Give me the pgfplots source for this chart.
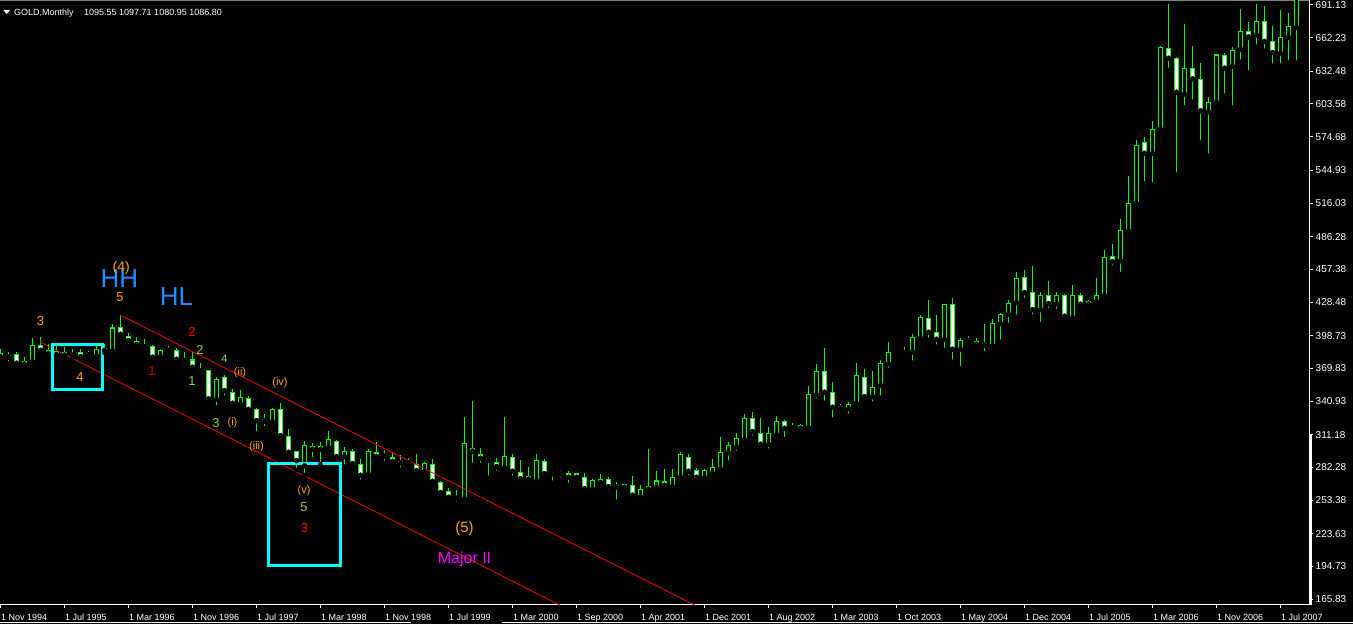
\documentclass[border=0pt]{standalone}
\usepackage{fontspec}
\setmainfont{Liberation Sans}
\usepackage{pgfplots}
\usepackage{pgfplotstable}
\pgfplotsset{compat=1.18}
\definecolor{mtgreen}{RGB}{0,255,0}
\definecolor{mtorange}{RGB}{255,165,0}
\definecolor{mtblue}{RGB}{30,144,255}
\definecolor{mtyg}{RGB}{154,205,50}
\definecolor{mtred}{RGB}{255,0,0}
\definecolor{mtdred}{RGB}{205,0,0}
\definecolor{mtmag}{RGB}{255,0,255}
\definecolor{mtcyan}{RGB}{0,255,255}

\pgfplotstableread{
i o h l c
0 382.5 386.9 377.2 379.9
1 381.6 384.5 374.3 379.6
2 382.2 384.5 369.9 374.3
3 373.4 379.6 371.9 376.3
4 375.7 396.4 371.3 389.9
5 389.9 397.3 383.1 385.8
6 385.2 391.4 380.1 383.1
7 384.3 390.2 379.6 381.9
8 383.7 389.0 377.2 381.4
9 382.2 386.7 378.7 381.4
10 383.4 386.9 377.2 380.1
11 382.2 385.2 378.7 381.8
12 380.7 389.9 379.6 386.9
13 387.8 391.4 383.4 385.6
14 385.4 409.0 385.0 405.5
15 406.1 417.0 397.3 399.9
16 397.8 400.8 389.6 394.3
17 393.7 397.3 387.2 390.7
18 390.2 395.5 387.8 388.7
19 389.3 390.5 379.0 379.6
20 380.1 387.2 379.0 385.2
21 385.6 389.9 383.1 386.0
22 386.0 387.6 377.2 377.8
23 377.5 384.3 375.4 376.3
24 377.2 384.5 369.9 370.8
25 369.2 374.3 364.8 367.5
26 367.5 368.4 341.8 342.7
27 342.5 362.4 335.2 360.1
28 361.9 363.9 343.9 350.1
29 348.6 351.6 335.9 338.9
30 338.0 350.7 337.4 344.2
31 343.3 345.4 331.5 333.6
32 333.6 334.5 312.4 323.5
33 325.0 329.2 316.8 323.0
34 322.6 335.0 318.2 333.6
35 333.0 338.9 305.8 310.3
36 309.7 316.2 293.2 295.6
37 296.5 297.0 279.9 288.2
38 283.7 305.6 275.5 301.8
39 300.9 304.1 289.4 298.2
40 300.3 304.7 285.2 298.2
41 299.6 314.4 297.0 306.5
42 305.3 306.5 291.2 291.7
43 291.7 300.3 282.9 296.7
44 296.7 298.2 284.3 285.5
45 285.2 289.4 269.6 275.2
46 276.1 298.8 275.5 296.5
47 295.6 304.7 289.4 292.0
48 292.9 297.6 286.4 292.3
49 291.4 295.2 283.7 287.6
50 287.6 292.9 280.2 285.9
51 286.6 290.3 282.9 286.1
52 285.2 294.1 277.0 279.3
53 278.4 287.3 275.5 285.9
54 285.2 289.4 265.8 269.9
55 269.1 270.5 255.6 260.0
56 261.1 263.7 251.2 255.8
57 255.4 262.2 250.1 254.9
58 254.6 326.5 251.9 303.5
59 299.1 341.0 284.3 296.5
60 293.8 299.1 284.3 290.3
61 290.3 291.7 273.1 288.5
62 286.7 290.3 277.5 282.9
63 282.0 326.5 279.9 292.0
64 291.2 293.8 273.1 278.8
65 277.9 288.8 271.1 272.2
66 274.4 282.3 267.6 271.7
67 270.5 293.8 269.9 288.5
68 287.6 289.4 275.5 276.7
69 276.8 279.1 268.7 276.4
70 276.1 278.8 271.1 277.0
71 277.0 278.8 266.7 273.5
72 277.0 277.5 271.7 273.5
73 273.5 277.0 260.7 263.4
74 263.1 271.7 261.4 270.5
75 268.7 276.4 266.7 271.7
76 271.7 273.5 260.7 265.2
77 264.6 269.1 251.9 266.4
78 266.7 267.8 262.2 264.6
79 266.1 274.6 254.9 257.6
80 256.3 266.4 252.5 262.9
81 262.9 298.2 261.4 265.2
82 264.3 279.1 262.9 270.2
83 269.9 280.6 262.2 266.4
84 265.2 280.6 264.3 273.5
85 273.5 295.9 269.6 293.2
86 291.2 294.1 273.5 278.8
87 279.1 281.4 271.1 273.5
88 273.1 280.6 271.1 279.1
89 277.0 289.7 275.5 282.3
90 280.8 309.1 279.9 295.6
91 295.2 304.7 286.4 301.8
92 300.5 312.7 295.2 308.0
93 306.7 329.5 305.0 325.7
94 325.7 331.2 308.5 313.8
95 312.4 325.9 299.6 302.7
96 302.7 318.0 297.0 312.4
97 311.2 327.7 309.4 323.0
98 323.0 324.1 307.3 316.8
99 317.5 321.2 316.5 317.1
100 319.5 320.3 315.3 316.8
101 317.7 354.2 314.7 346.9
102 346.5 373.7 341.2 367.2
103 367.2 387.8 339.4 348.6
104 348.6 357.8 324.4 335.4
105 336.5 338.0 332.4 334.5
106 334.1 340.1 327.9 338.0
107 338.9 374.6 336.8 363.7
108 361.9 369.2 341.2 344.8
109 344.8 367.5 338.6 353.1
110 354.8 377.2 343.9 374.3
111 373.9 393.1 368.4 384.0
112 384.7 386.0 380.7 385.2
113 383.8 388.4 379.9 384.3
114 384.0 400.2 374.8 397.3
115 396.4 417.0 394.9 415.0
116 414.1 430.3 394.9 401.7
117 401.7 417.0 389.0 395.5
118 395.5 427.0 386.0 426.5
119 426.5 431.8 375.7 386.7
120 386.7 396.4 370.1 394.6
121 394.9 398.4 391.6 394.4
122 393.4 396.4 389.9 391.1
123 391.6 408.8 383.1 390.2
124 389.9 413.5 386.9 409.3
125 409.3 418.5 393.4 417.6
126 417.6 430.3 408.2 427.3
127 427.9 455.0 415.5 449.5
128 450.3 456.8 430.3 436.7
129 437.1 460.3 415.5 421.7
130 421.7 437.1 409.0 434.4
131 434.4 447.1 421.4 427.0
132 427.0 437.1 420.5 434.4
133 434.4 435.3 412.6 415.9
134 414.6 443.5 412.6 434.4
135 434.4 436.2 425.0 426.5
136 426.5 430.3 425.0 428.5
137 428.8 449.7 427.3 434.4
138 434.1 474.5 433.2 468.0
139 468.3 479.5 458.8 464.1
140 465.0 501.9 453.3 491.9
141 491.5 539.9 487.7 515.8
142 515.8 571.8 512.8 567.1
143 569.7 574.7 533.5 560.0
144 560.0 588.6 532.6 581.2
145 581.2 654.9 580.0 653.7
146 652.8 692.0 633.7 644.0
147 644.0 644.9 541.4 613.9
148 612.2 674.3 600.7 635.2
149 635.2 654.9 605.6 625.7
150 625.4 640.1 569.7 597.4
151 596.8 610.0 557.9 605.1
152 605.1 647.8 604.2 646.9
153 646.7 649.0 610.9 635.2
154 636.9 654.3 600.3 651.1
155 652.0 687.6 641.0 667.9
156 667.9 676.1 631.3 662.8
157 664.6 692.0 654.3 676.7
158 676.7 690.5 650.7 659.0
159 659.0 672.6 637.5 649.0
160 648.4 686.7 637.8 662.6
161 662.6 683.8 640.1 672.3
162 671.4 703.0 640.1 700.0
}\gold

\begin{document}
\begin{tikzpicture}[x=1pt,y=1pt]
\fill[black] (0,0) rectangle (1353,624);
\useasboundingbox (0,0) rectangle (1353,624);
\fill[gray] (0,622.5) rectangle (1309,624);
\begin{axis}[
  at={(0pt,19pt)}, anchor=south west,
  scale only axis, width=1309.5pt, height=605pt,
  xmin=-0.0625, xmax=163.625, ymin=160.55, ymax=695.55,
  axis x line*=bottom, axis y line*=right,
  axis line style={white, line width=1pt},
  tick align=outside, major tick length=3pt,
  tick style={white, line width=1pt},
  xtick={0,8,...,160},
  xticklabels={1 Nov 1994,1 Jul 1995,1 Mar 1996,1 Nov 1996,1 Jul 1997,1 Mar 1998,1 Nov 1998,1 Jul 1999,1 Mar 2000,1 Sep 2000,1 Apr 2001,1 Dec 2001,1 Aug 2002,1 Mar 2003,1 Oct 2003,1 May 2004,1 Dec 2004,1 Jul 2005,1 Mar 2006,1 Nov 2006,1 Jul 2007},
  ytick={165.83,194.73,223.63,253.38,282.28,311.18,340.93,369.83,398.73,428.48,457.38,486.28,516.03,544.93,574.68,603.58,632.48,662.23,691.13},
  yticklabels={165.83,194.73,223.63,253.38,282.28,311.18,340.93,369.83,398.73,428.48,457.38,486.28,516.03,544.93,574.68,603.58,632.48,662.23,691.13},
  xticklabel style={anchor=north west, inner sep=0pt, text=white, font=\fontsize{9}{10}\selectfont, xshift=0.5pt, yshift=-6pt},
  yticklabel style={anchor=west, inner sep=0pt, text=white, font=\fontsize{10}{11}\selectfont, xshift=3pt},
  /pgf/number format/assume math mode=true,
]
% wicks
\addplot[only marks, mark=none, forget plot,
  error bars/.cd, y dir=plus, y explicit, error mark=none,
  error bar style={draw=mtgreen, line width=1pt}]
  table[x=i, y=l, y error plus expr={\thisrow{h}-\thisrow{l}}] {\gold};
% body outline
\addplot[only marks, mark=none, forget plot,
  error bars/.cd, y dir=plus, y explicit, error mark=none,
  error bar style={draw=mtgreen, line width=5pt}]
  table[x=i, y expr={min(\thisrow{o},\thisrow{c})-0.45}, y error plus expr={abs(\thisrow{c}-\thisrow{o})+0.9}] {\gold};
% body inner black (bull)
\addplot[only marks, mark=none, forget plot,
  error bars/.cd, y dir=plus, y explicit, error mark=none,
  error bar style={draw=black, line width=3pt}]
  table[x=i, y expr={min(\thisrow{o},\thisrow{c})+0.45}, y error plus expr={max(abs(\thisrow{c}-\thisrow{o})-0.9,0)}] {\gold};
% body inner white (bear)
\addplot[only marks, mark=none, forget plot,
  error bars/.cd, y dir=plus, y explicit, error mark=none,
  error bar style={draw=white, line width=3pt}]
  table[x=i, y expr={min(\thisrow{o},\thisrow{c})+0.45}, y error plus expr={(\thisrow{o}>\thisrow{c})*max(abs(\thisrow{c}-\thisrow{o})-0.9,0)}] {\gold};
% channel lines
\addplot[mtred, line width=0.8pt] coordinates {(14.94,417.0) (86.74,160.55)};
\addplot[mtred, line width=0.8pt] coordinates {(4.94,393.1) (69.9,160.55)};
% boxes
\draw[mtcyan, line width=3pt] (axis cs:6.46,391.17) rectangle (axis cs:12.79,351.38);
\draw[mtcyan, line width=3pt] (axis cs:33.54,285.94) rectangle (axis cs:42.54,195.21);
% labels
\node[text=mtblue, font=\fontsize{26}{26}\selectfont] at (axis cs:14.875,449.3) {HH};
\node[text=mtblue, font=\fontsize{26}{26}\selectfont] at (axis cs:22.0,432.9) {HL};
\node[text=mtorange, font=\fontsize{14}{14}\selectfont] at (axis cs:15.1,459.0) {(4)};
\node[text=mtorange, font=\fontsize{13}{13}\selectfont] at (axis cs:14.94,432.5) {5};
\node[text=mtorange, font=\fontsize{13}{13}\selectfont] at (axis cs:5.0,412.1) {3};
\node[text=mtorange, font=\fontsize{13}{13}\selectfont] at (axis cs:9.94,361.7) {4};
\node[text=mtred, font=\fontsize{13}{13}\selectfont] at (axis cs:23.94,402.0) {2};
\node[text=mtdred, font=\fontsize{13}{13}\selectfont] at (axis cs:18.94,367.5) {1};
\node[text=mtyg, font=\fontsize{13}{13}\selectfont] at (axis cs:24.94,386.1) {2};
\node[text=mtyg, font=\fontsize{11}{11}\selectfont] at (axis cs:28.0,378.1) {4};
\node[text=mtyg, font=\fontsize{13}{13}\selectfont] at (axis cs:23.94,358.6) {1};
\node[text=mtyg, font=\fontsize{13}{13}\selectfont] at (axis cs:26.94,321.5) {3};
\node[text=mtorange, font=\fontsize{11}{11}\selectfont] at (axis cs:29.0,321.9) {(i)};
\node[text=mtorange, font=\fontsize{11}{11}\selectfont] at (axis cs:29.94,365.7) {(ii)};
\node[text=mtorange, font=\fontsize{11}{11}\selectfont] at (axis cs:34.94,357.3) {(iv)};
\node[text=mtorange, font=\fontsize{11}{11}\selectfont] at (axis cs:32.0,300.7) {(iii)};
\node[text=mtorange, font=\fontsize{11}{11}\selectfont] at (axis cs:37.94,261.8) {(v)};
\node[text=mtyg, font=\fontsize{13}{13}\selectfont] at (axis cs:37.94,246.8) {5};
\node[text=mtred, font=\fontsize{13}{13}\selectfont] at (axis cs:38.0,228.2) {3};
\node[text=mtorange, font=\fontsize{15}{15}\selectfont] at (axis cs:58.0,228.2) {(5)};
\node[text=mtmag, font=\fontsize{16}{16}\selectfont] at (axis cs:58.0,200.8) {Major II};
\end{axis}
% current-price marker on the price scale
\draw[white, line width=3pt] (1310.5,19) -- (1310.5,189);
% window bottom line
\draw[white, line width=1.5pt] (0,1.5) -- (411,1.5);
\draw[white, line width=1.5pt] (502,1.5) -- (1353,1.5);
% header
\fill[white] (3.3,614) -- (10,614) -- (6.65,610) -- cycle;
\node[anchor=base west, inner sep=0pt, text=white, font=\fontsize{9}{10}\selectfont] at (14,608.5) {GOLD,Monthly};
\node[anchor=base west, inner sep=0pt, text=white, font=\fontsize{9}{10}\selectfont] at (84,608.5) {1095.55 1097.71 1080.95 1086.80};
\end{tikzpicture}
\end{document}
